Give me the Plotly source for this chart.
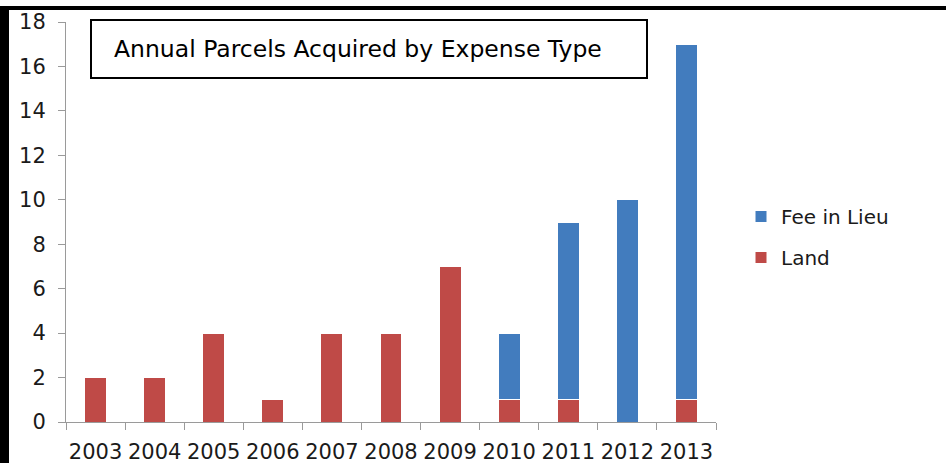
import plotly.graph_objects as go

years = ["2003", "2004", "2005", "2006", "2007", "2008", "2009", "2010", "2011", "2012", "2013"]
land = [2, 2, 4, 1, 4, 4, 7, 1, 1, 0, 1]
fee_in_lieu = [0, 0, 0, 0, 0, 0, 0, 3, 8, 10, 16]
y_ticks = [0, 2, 4, 6, 8, 10, 12, 14, 16, 18]

W, H = 946, 463
L, R, T, B = 66, 230, 22, 41
PW, PH = W - L - R, H - T - B

def px(x):
    return (x - L) / PW

def py(y):
    return (H - B - y) / PH

fig = go.Figure()
fig.add_trace(go.Bar(x=years, y=land, name="Land", legendgroup="land", legendrank=2,
                     marker=dict(color="#BF4A47", line=dict(color="white", width=1))))
fig.add_trace(go.Bar(x=years, y=fee_in_lieu, name="Fee in Lieu", legendgroup="fee", legendrank=1,
                     marker=dict(color="#427CBE", line=dict(color="white", width=1))))

fig.update_layout(
    width=W, height=H,
    margin=dict(l=L, r=R, t=T, b=B, pad=0, autoexpand=False),
    barmode="stack", bargap=0.63,
    plot_bgcolor="white", paper_bgcolor="white",
    font=dict(family="DejaVu Sans", color="#1a1a1a"),
    showlegend=True,
    legend=dict(x=px(741), y=py(197), xanchor="left", yanchor="top",
                traceorder="grouped", tracegroupgap=12,
                font=dict(family="DejaVu Sans", size=20, color="#1a1a1a"),
                bgcolor="rgba(0,0,0,0)"),
    xaxis=dict(type="category", showline=True, linecolor="#9a9a9a", linewidth=1,
               ticks="outside", tickson="boundaries", ticklen=7, tickcolor="#9a9a9a",
               tickangle=0, automargin=False,
               tickfont=dict(size=21, family="DejaVu Sans", color="#1a1a1a"),
               showgrid=False, zeroline=False, ticklabelstandoff=11),
    yaxis=dict(range=[0, 18], tickvals=y_ticks, showline=True, linecolor="#9a9a9a", linewidth=1,
               ticks="outside", ticklen=7, tickcolor="#9a9a9a", automargin=False,
               tickfont=dict(size=21, family="DejaVu Sans", color="#1a1a1a"),
               showgrid=False, zeroline=False, ticklabelstandoff=8),
    shapes=[
        dict(type="rect", xref="paper", yref="paper", x0=px(0), x1=px(946), y0=py(10), y1=py(6),
             fillcolor="black", line=dict(width=0), layer="above"),
        dict(type="rect", xref="paper", yref="paper", x0=px(0), x1=px(9), y0=py(463), y1=py(6),
             fillcolor="black", line=dict(width=0), layer="above"),
        dict(type="rect", xref="paper", yref="paper", x0=px(91), x1=px(647), y0=py(78), y1=py(20),
             fillcolor="white", line=dict(color="black", width=2), layer="above"),
    ],
    annotations=[
        dict(text="Annual Parcels Acquired by Expense Type", xref="paper", yref="paper",
             x=px(358), y=py(49), xanchor="center", yanchor="middle", showarrow=False,
             font=dict(family="DejaVu Sans", size=23.5, color="black")),
    ],
)

fig.write_html("out.html", config={"displayModeBar": False},
               post_script="document.body.style.margin='0';")
